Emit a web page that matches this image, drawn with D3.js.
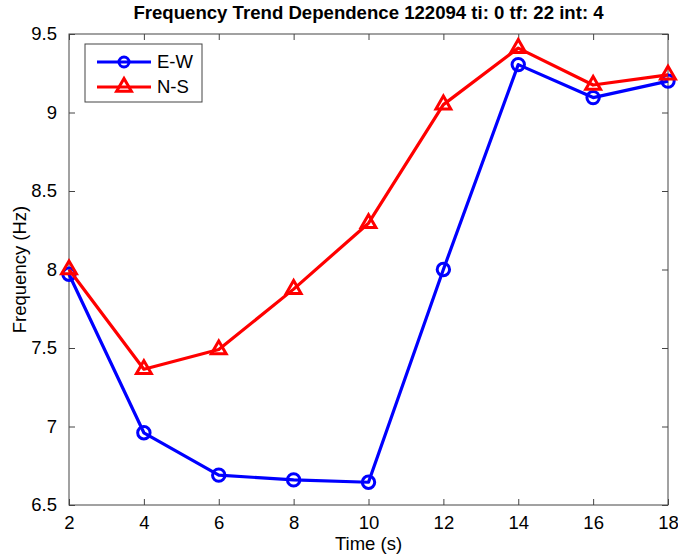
<!DOCTYPE html>
<html><head><meta charset="utf-8">
<script src="https://cdn.jsdelivr.net/npm/d3@7"></script>
<style>body{margin:0;background:#fff;} text{font-family:"Liberation Sans",Arial,sans-serif;}</style>
</head><body><svg id="c" width="678" height="558"></svg>
<script>
const times = [2,4,6,8,10,12,14,16,18];
const ewValues = [7.97,6.96,6.69,6.66,6.645,8.0,9.305,9.095,9.2];
const nsValues = [8.0,7.365,7.49,7.875,8.295,9.05,9.41,9.175,9.24];
const xTicks = [2,4,6,8,10,12,14,16,18];
const yTicks = [6.5,7,7.5,8,8.5,9,9.5];
const seriesNames = ["E-W","N-S"];
const seriesColors = ["#0000ff","#ff0000"];
const titleText = "Frequency Trend Dependence 122094 ti: 0 tf: 22 int: 4";

const svg = d3.select("#c");
const L=69,R=668,T=34,B=505;
const x = d3.scaleLinear().domain([2,18]).range([L,R]);
const y = d3.scaleLinear().domain([6.5,9.5]).range([B,T]);
const axisCol="#444";

svg.append("rect").attr("x",L).attr("y",T).attr("width",R-L).attr("height",B-T)
  .attr("fill","none").attr("stroke",axisCol).attr("stroke-width",1);

const tl=6;
const gx = svg.append("g").attr("transform",`translate(0,${B})`)
  .call(d3.axisBottom(x).tickValues(xTicks).tickSizeInner(-tl).tickSizeOuter(0).tickPadding(11).tickFormat(d3.format("d")));
const gxt = svg.append("g").attr("transform",`translate(0,${T})`)
  .call(d3.axisTop(x).tickValues(xTicks).tickSizeInner(-tl).tickSizeOuter(0).tickFormat(""));
const gy = svg.append("g").attr("transform",`translate(${L},0)`)
  .call(d3.axisLeft(y).tickValues(yTicks).tickSizeInner(-tl).tickSizeOuter(0).tickPadding(12).tickFormat(d=>d3.format("")(d)));
const gyr = svg.append("g").attr("transform",`translate(${R},0)`)
  .call(d3.axisRight(y).tickValues(yTicks).tickSizeInner(-tl).tickSizeOuter(0).tickFormat(""));
[gx,gxt,gy,gyr].forEach(g=>{
  g.select(".domain").remove();
  g.selectAll("line").attr("stroke",axisCol);
  g.selectAll("text").attr("font-size",18.5).attr("fill","#000").attr("font-family","Liberation Sans, Arial, sans-serif");
});

svg.append("text").attr("x",(L+R)/2).attr("y",19).attr("text-anchor","middle")
  .attr("font-size",18.6).attr("font-weight","bold").text(titleText);
svg.append("text").attr("x",(L+R)/2).attr("y",550).attr("text-anchor","middle")
  .attr("font-size",18.5).text("Time (s)");
svg.append("text").attr("transform",`translate(26,${(T+B)/2}) rotate(-90)`).attr("text-anchor","middle")
  .attr("font-size",18.5).text("Frequency (Hz)");

const line = d3.line().x((d,i)=>x(times[i])).y(d=>y(d));
const tri = d3.symbol().type(d3.symbolTriangle).size(95);
function drawSeries(vals,col,marker){
  svg.append("path").datum(vals).attr("d",line).attr("fill","none").attr("stroke",col).attr("stroke-width",3.2).attr("stroke-linejoin","round");
  const g=svg.append("g");
  vals.forEach((v,i)=>{
    if(marker==="o") g.append("circle").attr("cx",x(times[i])).attr("cy",y(v)).attr("r",6.2).attr("fill","none").attr("stroke",col).attr("stroke-width",3);
    else g.append("path").attr("d",tri()).attr("transform",`translate(${x(times[i])},${y(v)})`).attr("fill","none").attr("stroke",col).attr("stroke-width",3);
  });
}
drawSeries(ewValues,seriesColors[0],"o");
drawSeries(nsValues,seriesColors[1],"^");

const lg = svg.append("g");
lg.append("rect").attr("x",85).attr("y",44).attr("width",117).attr("height",58).attr("fill","#fff").attr("stroke",axisCol);
seriesNames.forEach((n,i)=>{
  const yy = 62 + i*25;
  lg.append("line").attr("x1",97).attr("x2",151).attr("y1",yy).attr("y2",yy).attr("stroke",seriesColors[i]).attr("stroke-width",3.2);
  if(i===0) lg.append("circle").attr("cx",124).attr("cy",yy).attr("r",5).attr("fill","none").attr("stroke",seriesColors[i]).attr("stroke-width",3);
  else lg.append("path").attr("d",tri()).attr("transform",`translate(124,${yy})`).attr("fill","none").attr("stroke",seriesColors[i]).attr("stroke-width",3);
  lg.append("text").attr("x",157).attr("y",yy+6).attr("font-size",18.5).text(n);
});
</script></body></html>
